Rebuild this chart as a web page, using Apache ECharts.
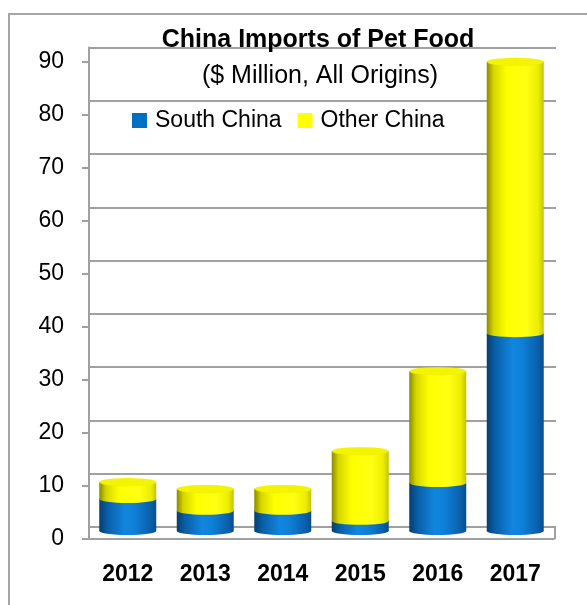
<!doctype html>
<html lang="en">
<head>
    <meta charset="utf-8">
    <title>China Imports of Pet Food</title>
    <style>
        html, body { margin: 0; padding: 0; background: #fff; }
    </style>
</head>
<body>

<div id="main" style="width:587px;height:605px;"></div>

<script src="https://cdn.jsdelivr.net/npm/echarts@6/dist/echarts.min.js"></script>

<script>

    var myChart = echarts.init(document.getElementById('main'));

    // data ($ million)
    var years = ['2012', '2013', '2014', '2015', '2016', '2017'];
    var southChina = [6.0, 3.8, 3.8, 1.9, 9.0, 37.1];
    var otherChina = [3.2, 4.1, 4.1, 13.1, 21.0, 50.9];
    var yTicks = [0, 10, 20, 30, 40, 50, 60, 70, 80, 90];

    var totals = [];
    for (var i = 0; i < years.length; i++) {
        totals.push(+(southChina[i] + otherChina[i]).toFixed(1));
    }

    var font = 'Liberation Sans';

    // cylinder shading
    var blueFill = new echarts.graphic.LinearGradient(0, 0, 1, 0, [
        {offset: 0, color: '#063e6e'},
        {offset: 0.15, color: '#0a5fa8'},
        {offset: 0.45, color: '#1186df'},
        {offset: 0.62, color: '#0f80d8'},
        {offset: 0.88, color: '#0a62ae'},
        {offset: 1, color: '#084e8c'}
    ]);
    var yellowFill = new echarts.graphic.LinearGradient(0, 0, 1, 0, [
        {offset: 0, color: '#8a8a00'},
        {offset: 0.12, color: '#d6d600'},
        {offset: 0.35, color: '#ffff00'},
        {offset: 0.7, color: '#ffff14'},
        {offset: 0.9, color: '#eded00'},
        {offset: 1, color: '#c4c400'}
    ]);

    var gridColor = '#a0a0a0';

    var option = {
        backgroundColor: '#fff',
        animation: false,
        title: [{
            text: 'China Imports of Pet Food',
            left: 313,
            top: 23,
            textAlign: 'center',
            textStyle: {fontFamily: font, fontSize: 25, fontWeight: 'bold', color: '#000'}
        }, {
            text: '($ Million, All Origins)',
            left: 315,
            top: 59,
            textAlign: 'center',
            textStyle: {fontFamily: font, fontSize: 25, fontWeight: 'normal', color: '#000'}
        }],
        legend: {
            left: 132,
            top: 109,
            padding: 0,
            itemWidth: 15,
            itemHeight: 15,
            itemGap: 16,
            icon: 'rect',
            textStyle: {fontFamily: font, fontSize: 23, color: '#000', padding: [0, 0, 0, 3]},
            data: [
                {name: 'South China', itemStyle: {color: '#0070c0'}},
                {name: 'Other China', itemStyle: {color: '#ffff00'}}
            ]
        },
        grid: [
            // axes (front)
            {left: 89, right: 33, top: 62, bottom: 66},
            // back wall
            {left: 89, right: 31, top: 47.5, bottom: 78},
            // bars (mid depth)
            {left: 89, right: 33, top: 51, bottom: 74}
        ],
        xAxis: [{
            gridIndex: 0,
            type: 'category',
            data: years,
            axisLine: {lineStyle: {color: gridColor, width: 2}},
            axisTick: {length: 7, lineStyle: {color: gridColor, width: 2}},
            axisLabel: {fontFamily: font, fontSize: 23, fontWeight: 'bold', color: '#000', margin: 24}
        }, {
            gridIndex: 1,
            type: 'category',
            data: years,
            show: false
        }, {
            gridIndex: 2,
            type: 'category',
            data: years,
            show: false
        }],
        yAxis: [{
            gridIndex: 0,
            type: 'value',
            min: 0,
            max: 90,
            interval: 10,
            axisLine: {show: true, lineStyle: {color: gridColor, width: 2}},
            axisTick: {show: true, length: 7, lineStyle: {color: gridColor, width: 2}},
            splitLine: {show: false},
            axisLabel: {
                fontFamily: font, fontSize: 23, color: '#000', margin: 25,
                formatter: function(v) { return yTicks.indexOf(v) > -1 ? String(v) : ''; }
            }
        }, {
            gridIndex: 1,
            type: 'value',
            min: 0,
            max: 90,
            interval: 10,
            axisLine: {show: true, lineStyle: {color: gridColor, width: 2}},
            axisTick: {show: false},
            axisLabel: {show: false},
            splitLine: {show: true, lineStyle: {color: gridColor, width: 2}}
        }, {
            gridIndex: 2,
            type: 'value',
            min: 0,
            max: 90,
            show: false,
            splitLine: {show: false}
        }],
        graphic: [{
            // chart area frame
            type: 'rect',
            shape: {x: 9, y: 14, width: 620, height: 620},
            style: {fill: 'none', stroke: '#a6a6a6', lineWidth: 2},
            silent: true
        }, {
            // floor right edge
            type: 'line',
            shape: {x1: 555, y1: 527, x2: 555, y2: 539},
            style: {stroke: gridColor, lineWidth: 2},
            silent: true
        }],
        series: [{
            name: 'South China',
            type: 'bar',
            xAxisIndex: 2,
            yAxisIndex: 2,
            stack: 'total',
            barWidth: 57,
            z: 2,
            itemStyle: {color: blueFill},
            data: southChina
        }, {
            name: 'Other China',
            type: 'bar',
            xAxisIndex: 2,
            yAxisIndex: 2,
            stack: 'total',
            barWidth: 57,
            z: 2,
            itemStyle: {color: yellowFill},
            data: otherChina
        }, {
            // rounded bottom of the cylinders
            type: 'pictorialBar',
            xAxisIndex: 2,
            yAxisIndex: 2,
            symbol: 'circle',
            symbolSize: [57, 8],
            symbolPosition: 'start',
            symbolOffset: [0, '50%'],
            barWidth: 57,
            barGap: '-100%',
            z: 1,
            itemStyle: {color: blueFill},
            data: southChina
        }, {
            // curved seam between the two parts
            type: 'pictorialBar',
            xAxisIndex: 2,
            yAxisIndex: 2,
            symbol: 'circle',
            symbolSize: [57, 8],
            symbolPosition: 'end',
            symbolOffset: [0, '-50%'],
            barWidth: 57,
            barGap: '-100%',
            z: 3,
            itemStyle: {color: yellowFill},
            data: southChina
        }, {
            // top of the cylinders
            type: 'pictorialBar',
            xAxisIndex: 2,
            yAxisIndex: 2,
            symbol: 'circle',
            symbolSize: [57, 8],
            symbolPosition: 'end',
            symbolOffset: [0, '-50%'],
            barWidth: 57,
            barGap: '-100%',
            z: 4,
            itemStyle: {color: '#f4f400', borderColor: '#cfcf00', borderWidth: 1},
            data: totals
        }]
    };

    myChart.setOption(option);

</script>
</body>
</html>
